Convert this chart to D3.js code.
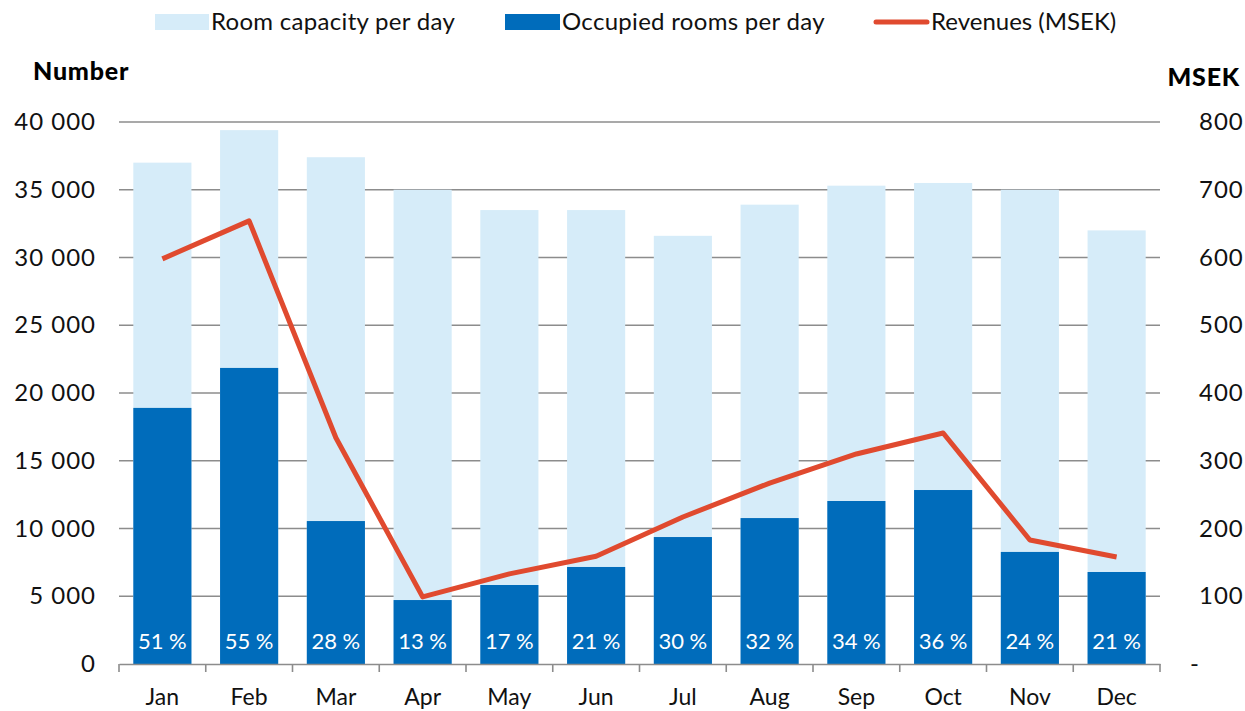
<!DOCTYPE html>
<html>
<head>
<meta charset="utf-8">
<script src="https://cdn.jsdelivr.net/npm/d3@7"></script>
<style>
  body { margin: 0; background: #fff; }
  svg { font-family: Lato, "Open Sans", sans-serif; }
</style>
</head>
<body>
<div id="chart"></div>
<script>
//data
const months = ["Jan", "Feb", "Mar", "Apr", "May", "Jun", "Jul", "Aug", "Sep", "Oct", "Nov", "Dec"];
const capacity = [37000, 39400, 37400, 35000, 33500, 33500, 31600, 33900, 35300, 35500, 35000, 32000];
const occupied = [18900, 21850, 10550, 4720, 5830, 7160, 9370, 10770, 12030, 12840, 8270, 6790];
const occupancyLabels = ["51 %", "55 %", "28 %", "13 %", "17 %", "21 %", "30 %", "32 %", "34 %", "36 %", "24 %", "21 %"];
const revenues = [598, 654, 334, 99, 133, 159, 217, 267, 310, 341, 183, 158];
const leftTicks = [0, 5000, 10000, 15000, 20000, 25000, 30000, 35000, 40000];
const rightTicks = [0, 100, 200, 300, 400, 500, 600, 700, 800];

const width = 1245, height = 711;
const plot = { left: 119, right: 1160, top: 122, bottom: 664 };
const lightBlue = "#d6ecf9", darkBlue = "#006cbb", red = "#e04a2f", grid = "#8c8c8c";

const svg = d3.select("#chart").append("svg")
  .attr("width", width)
  .attr("height", height);

const x = d3.scaleBand().domain(months).range([plot.left, plot.right]).paddingInner(0.33).paddingOuter(0.165);
const xOuter = d3.scaleBand().domain(months).range([plot.left, plot.right]);
const yLeft = d3.scaleLinear().domain([0, 40000]).range([plot.bottom, plot.top]);
const yRight = d3.scaleLinear().domain([0, 800]).range([plot.bottom, plot.top]);

// gridlines
svg.append("g")
  .selectAll("line")
  .data(leftTicks.filter(d => d > 0))
  .join("line")
  .attr("x1", plot.left)
  .attr("x2", plot.right)
  .attr("y1", d => yLeft(d))
  .attr("y2", d => yLeft(d))
  .attr("stroke", grid)
  .attr("stroke-width", 1.6);

// left tick labels
svg.append("g")
  .selectAll("text")
  .data(leftTicks)
  .join("text")
  .attr("x", 96)
  .attr("y", d => yLeft(d) + 8)
  .attr("text-anchor", "end")
  .attr("font-size", 24)
  .attr("letter-spacing", 1)
  .attr("fill", "#111")
  .text(d => d3.format(",")(d).replace(/,/g, " "));

// right tick labels
svg.append("g")
  .selectAll("text")
  .data(rightTicks)
  .join("text")
  .attr("x", d => d === 0 ? 1190 : 1199)
  .attr("y", d => yRight(d) + 8)
  .attr("font-size", 24)
  .attr("letter-spacing", 1)
  .attr("fill", "#111")
  .text(d => d === 0 ? "-" : d);

// capacity bars
svg.append("g")
  .selectAll("rect")
  .data(capacity)
  .join("rect")
  .attr("x", (d, i) => x(months[i]))
  .attr("y", d => yLeft(d))
  .attr("width", x.bandwidth())
  .attr("height", d => plot.bottom - yLeft(d))
  .attr("fill", lightBlue);

// occupied bars
svg.append("g")
  .selectAll("rect")
  .data(occupied)
  .join("rect")
  .attr("x", (d, i) => x(months[i]))
  .attr("y", d => yLeft(d))
  .attr("width", x.bandwidth())
  .attr("height", d => plot.bottom - yLeft(d))
  .attr("fill", darkBlue);

// occupancy labels
svg.append("g")
  .selectAll("text")
  .data(occupancyLabels)
  .join("text")
  .attr("x", (d, i) => x(months[i]) + x.bandwidth() / 2)
  .attr("y", 649)
  .attr("text-anchor", "middle")
  .attr("font-size", 22)
  .attr("fill", "#fff")
  .text(d => d);

// x axis
const xAxis = d3.axisBottom(xOuter).tickSize(0).tickFormat("");
const gx = svg.append("g").attr("transform", `translate(0,${plot.bottom})`).call(xAxis);
gx.select(".domain").attr("stroke", grid).attr("stroke-width", 1.6);
svg.append("g")
  .selectAll("line")
  .data(d3.range(months.length + 1))
  .join("line")
  .attr("x1", i => plot.left + i * xOuter.step())
  .attr("x2", i => plot.left + i * xOuter.step())
  .attr("y1", plot.bottom)
  .attr("y2", plot.bottom + 8)
  .attr("stroke", grid)
  .attr("stroke-width", 1.6);
svg.append("g")
  .selectAll("text")
  .data(months)
  .join("text")
  .attr("x", d => xOuter(d) + xOuter.bandwidth() / 2)
  .attr("y", 705)
  .attr("text-anchor", "middle")
  .attr("font-size", 23)
  .attr("fill", "#111")
  .text(d => d);

// revenue line
const line = d3.line()
  .x((d, i) => x(months[i]) + x.bandwidth() / 2)
  .y(d => yRight(d));
svg.append("path")
  .datum(revenues)
  .attr("d", line)
  .attr("fill", "none")
  .attr("stroke", red)
  .attr("stroke-width", 5)
  .attr("stroke-linejoin", "round");

// axis titles
svg.append("text").attr("x", 33).attr("y", 80)
  .attr("font-size", 25).attr("font-weight", "900").attr("letter-spacing", 0.8).attr("fill", "#000").text("Number");
svg.append("text").attr("x", 1240).attr("y", 86).attr("text-anchor", "end")
  .attr("font-size", 25).attr("font-weight", "900").attr("letter-spacing", 0.8).attr("fill", "#000").text("MSEK");

// legend
const legend = svg.append("g").attr("font-size", 24).attr("fill", "#111");
legend.append("rect").attr("x", 155).attr("y", 14).attr("width", 54).attr("height", 16).attr("fill", lightBlue);
legend.append("text").attr("x", 211).attr("y", 30).attr("letter-spacing", 0.3).text("Room capacity per day");
legend.append("rect").attr("x", 505).attr("y", 14).attr("width", 55).attr("height", 16).attr("fill", darkBlue);
legend.append("text").attr("x", 562).attr("y", 30).attr("letter-spacing", 0.3).text("Occupied rooms per day");
legend.append("line").attr("x1", 876).attr("x2", 927).attr("y1", 22).attr("y2", 22)
  .attr("stroke", red).attr("stroke-width", 5).attr("stroke-linecap", "round");
legend.append("text").attr("x", 931).attr("y", 30).text("Revenues (MSEK)");
</script>
</body>
</html>
